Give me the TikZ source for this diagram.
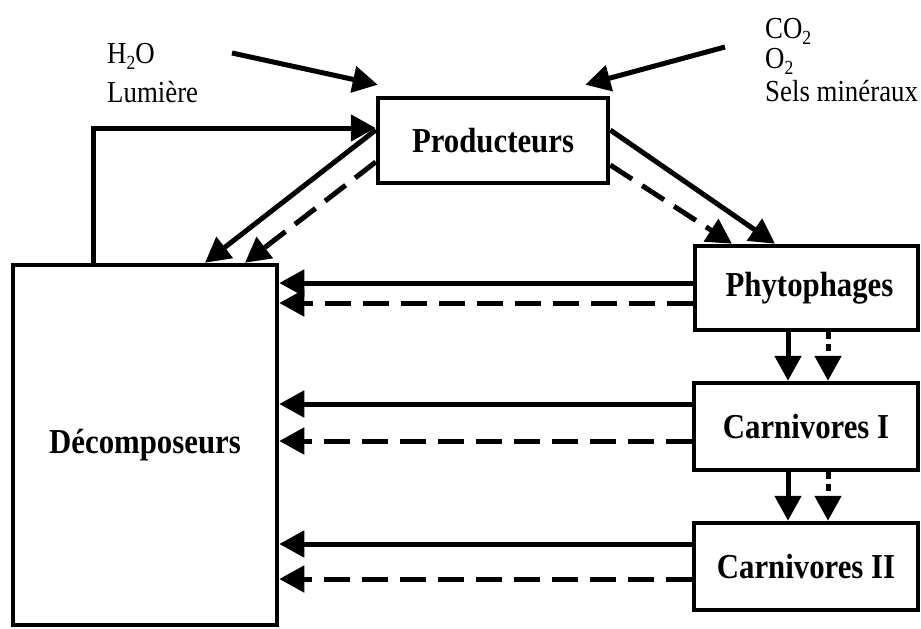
\documentclass[tikz,border=0pt]{standalone}
\usepackage{fontspec}
\setmainfont{Liberation Serif}[FakeStretch=0.88]
\usetikzlibrary{arrows.meta}
\newcommand\lowsub[1]{\raisebox{-0.2em}{\fontsize{20}{20}\selectfont #1}}
\begin{document}
\begin{tikzpicture}[x=1pt,y=-1pt,
  box/.style={draw,line width=4.5pt,inner sep=0pt,font=\fontsize{35}{40}\selectfont\bfseries},
  lbl/.style={anchor=base west,inner sep=0pt,font=\fontsize{30.5}{36}\selectfont},
  flow/.style={line width=5pt,-{Triangle[length=25pt,width=26pt]}},
  dsh/.style={flow,dash pattern=on 26pt off 12pt},
  dotl/.style={flow,dash pattern=on 7pt off 5pt}]
\useasboundingbox (0,0) rectangle (921,629);
\fill[white] (0,0) rectangle (921,629);

\node[box,minimum width=230pt,minimum height=85pt] (prod) at (493,140.5) {Producteurs};
\node[box,minimum width=264pt,minimum height=360pt] (dec) at (145,445) {Décomposeurs};
\node[box,minimum width=223pt,minimum height=84pt] (phy) at (806.5,288) {\hspace*{6pt}Phytophages};
\node[box,minimum width=224pt,minimum height=87pt] (c1) at (806,426.5) {Carnivores I};
\node[box,minimum width=224pt,minimum height=87pt] (c2) at (806,566.5) {Carnivores II};

\node[lbl] (h2o) at (107,63) {H\lowsub{2}O};
\node[lbl] (lum) at (107,102) {Lumière};
\node[lbl] (co2) at (765,38) {CO\lowsub{2}};
\node[lbl] (o2) at (765,68) {O\lowsub{2}};
\node[lbl] (sels) at (765,101) {Sels minéraux};

\coordinate (h2oend) at (232,53);
\coordinate (co2end) at (725,47);
\draw[flow] (h2oend) -- ([xshift=2pt,yshift=11pt]prod.north west);
\draw[flow] (co2end) -- ([xshift=-25pt,yshift=11pt]prod.north east);

\draw[flow] (dec.north -| 93,0) |- (prod.west |- 0,128);
\draw[flow] (prod.west |- 0,130) -- (dec.north -| 205,0);
\draw[dsh] (prod.west |- 0,162) -- (dec.north -| 245,0);
\draw[flow] (prod.east |- 0,130) -- (phy.north -| 775,0);
\draw[dsh] (prod.east |- 0,165) -- (phy.north -| 732,0);

\draw[flow] (phy.west |- 0,283) -- (dec.east |- 0,283);
\draw[dsh] (phy.west |- 0,303) -- (dec.east |- 0,303);
\draw[flow] (c1.west |- 0,404) -- (dec.east |- 0,404);
\draw[dsh] (c1.west |- 0,441) -- (dec.east |- 0,441);
\draw[flow] (c2.west |- 0,544) -- (dec.east |- 0,544);
\draw[dsh] (c2.west |- 0,579) -- (dec.east |- 0,579);

\draw[flow] (phy.south -| 788,0) -- (c1.north -| 788,0);
\draw[dotl] (phy.south -| 828,0) -- (c1.north -| 828,0);
\draw[flow] (c1.south -| 788,0) -- (c2.north -| 788,0);
\draw[dotl] (c1.south -| 828,0) -- (c2.north -| 828,0);
\end{tikzpicture}
\end{document}
